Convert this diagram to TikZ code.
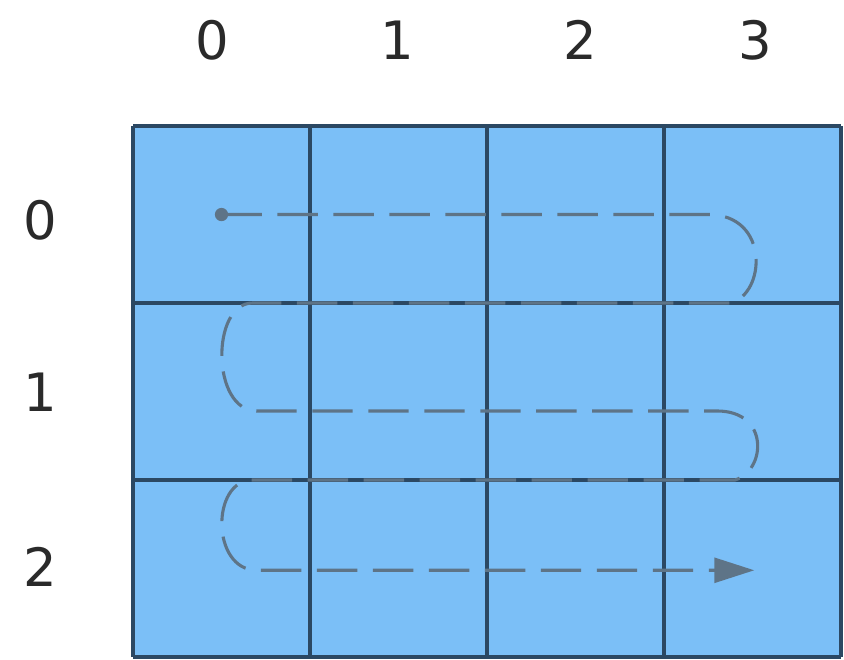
\documentclass[tikz,border=0pt]{standalone}
\usepackage{fontspec}
\setmainfont{DejaVu Sans}
\usetikzlibrary{arrows.meta}
\definecolor{cellblue}{HTML}{7BBFF7}
\definecolor{gridline}{HTML}{2B4863}
\definecolor{walkgray}{HTML}{5E7487}
\definecolor{labelgray}{HTML}{2A2A2A}
\tikzset{
  lbl/.style={font=\fontsize{17}{20}\selectfont, text=labelgray},
  walk/.style={draw=walkgray, line width=1pt, dash pattern=on 13pt off 5pt}
}
\begin{document}
\begin{tikzpicture}
\useasboundingbox (-1.503,-0.023) rectangle (8.034,7.424);
\fill[cellblue] (0,0) rectangle (8,6);
\draw[gridline, line width=1.5pt] (0,0) grid[step=2] (8,6);
\path node[lbl] (c0) at (0.9,6.97) {0}
node[lbl] (c1) at (2.99,6.97) {1}
node[lbl] (c2) at (5.05,6.97) {2}
node[lbl] (c3) at (7.03,6.97) {3}
node[lbl] (r0) at (-1.05,4.94) {0}
node[lbl] (r1) at (-1.05,2.99) {1}
node[lbl] (r2) at (-1.05,1.02) {2}
;
\coordinate (start) at (1,5);
\coordinate (stop) at (7.02,0.98);
\fill[walkgray] (start) circle (0.075);
\draw[walk, -{Triangle[length=4.5mm,width=2.8mm]}] (start) -- (6.5,5)
  .. controls (7.2,5) and (7.15,4.1) .. (6.75,4) -- (1.35,4)
  .. controls (0.88,4) and (0.88,2.78) .. (1.4,2.78) -- (6.6,2.78)
  .. controls (7.2,2.78) and (7.15,2.1) .. (6.8,2) -- (1.35,2)
  .. controls (0.88,2) and (0.88,0.98) .. (1.4,0.98) -- (stop);
\end{tikzpicture}
\end{document}
